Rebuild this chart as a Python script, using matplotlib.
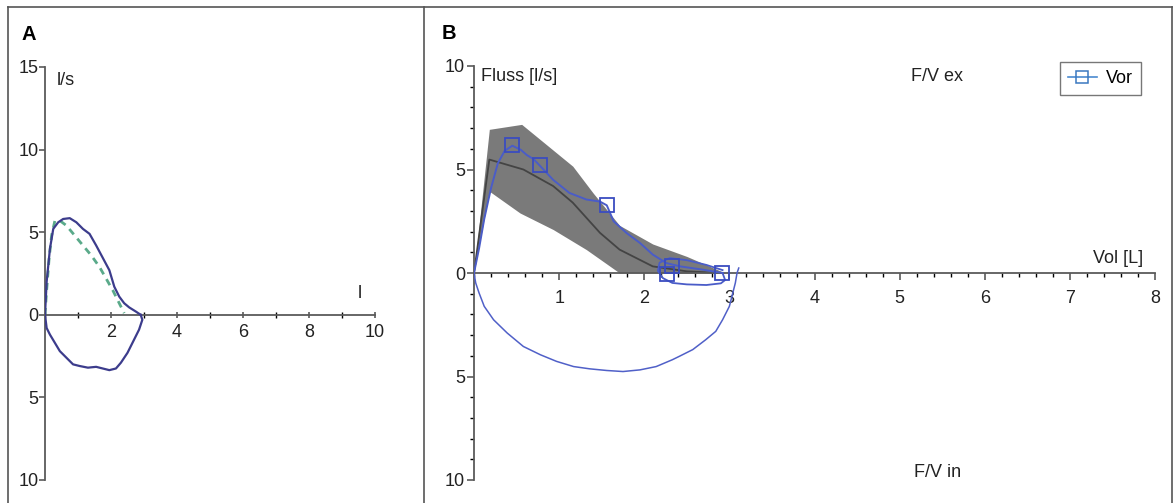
import matplotlib
matplotlib.use("Agg")
import matplotlib.pyplot as plt
from matplotlib.lines import Line2D
from matplotlib.ticker import FixedLocator, FuncFormatter, MultipleLocator
import numpy as np

plt.rcParams['font.family'] = ['Liberation Sans', 'DejaVu Sans']

# ---------------- Panel A data ----------------
a_exp_x = [0, 0.05, 0.15, 0.25, 0.4, 0.55, 0.75, 0.95, 1.15, 1.35, 1.55, 1.75, 1.95, 2.1, 2.25, 2.4, 2.55, 2.75, 2.9]
a_exp_y = [0, 2.0, 4.0, 5.2, 5.6, 5.8, 5.85, 5.6, 5.2, 4.9, 4.2, 3.45, 2.7, 1.7, 1.1, 0.7, 0.45, 0.2, 0.0]
a_insp_x = [2.9, 2.95, 2.85, 2.7, 2.5, 2.3, 2.15, 1.95, 1.75, 1.55, 1.3, 1.05, 0.85, 0.65, 0.45, 0.3, 0.15, 0.05, 0]
a_insp_y = [0, -0.3, -0.9, -1.5, -2.3, -2.9, -3.25, -3.35, -3.25, -3.15, -3.2, -3.1, -3.0, -2.6, -2.2, -1.7, -1.2, -0.8, 0]
a_pred_x = [0, 0.05, 0.12, 0.2, 0.3, 0.45, 0.65, 0.9, 1.15, 1.4, 1.65, 1.85, 2.05, 2.25, 2.4]
a_pred_y = [0, 1.5, 3.3, 4.8, 5.7, 5.7, 5.4, 4.8, 4.2, 3.6, 2.9, 2.2, 1.5, 0.7, 0.1]
a_yticks = [-10, -5, 0, 5, 10, 15]
a_xticks = [2, 4, 6, 8, 10]

# ---------------- Panel B data ----------------
b_upper_x = [0, 0.18, 0.56, 1.16, 1.40, 1.71, 2.1, 2.5, 2.95]
b_upper_y = [0, 6.94, 7.18, 5.16, 3.86, 2.3, 1.4, 0.8, 0]
b_lower_x = [0, 0.18, 0.54, 0.93, 1.32, 1.71, 2.95]
b_lower_y = [0, 3.95, 2.9, 2.1, 1.13, 0, 0]
b_mean_x = [0, 0.18, 0.58, 0.93, 1.16, 1.48, 1.71, 2.1, 2.5, 2.9]
b_mean_y = [0, 5.48, 5.0, 4.2, 3.4, 1.94, 1.13, 0.32, 0.08, 0]
b_exp_x = [0, 0.06, 0.12, 0.2, 0.28, 0.36, 0.45, 0.55, 0.62, 0.7, 0.77, 0.93, 1.12, 1.32, 1.48, 1.56,
           1.64, 1.79, 1.95, 2.1, 2.26, 2.42, 2.69, 2.92]
b_exp_y = [0, 1.2, 2.6, 4.1, 5.3, 5.9, 6.15, 5.95, 5.7, 5.5, 5.2, 4.5, 3.87, 3.55, 3.45, 3.27,
           2.5, 1.94, 1.45, 0.89, 0.48, 0.32, 0.16, 0]
b_loop_x = [2.92, 2.95, 2.9, 2.73, 2.5, 2.33, 2.22, 2.16, 2.18, 2.3, 2.5, 2.73, 2.92]
b_loop_y = [0, -0.34, -0.5, -0.58, -0.55, -0.48, -0.25, 0.1, 0.5, 0.72, 0.62, 0.39, 0.14]
b_insp_x = [3.11, 3.09, 3.07, 3.03, 3.0, 2.92, 2.84, 2.72, 2.57, 2.41, 2.33, 2.14, 1.95, 1.75, 1.56,
            1.36, 1.17, 0.97, 0.78, 0.58, 0.39, 0.23, 0.12, 0.06, 0.02, 0]
b_insp_y = [0.24, 0, -0.48, -1.13, -1.61, -2.26, -2.82, -3.23, -3.7, -4.03, -4.19, -4.52, -4.68, -4.76, -4.71,
            -4.63, -4.52, -4.27, -3.95, -3.55, -2.9, -2.26, -1.61, -0.97, -0.48, 0]
b_mark_x = [0.45, 0.77, 1.56, 2.27, 2.33, 2.91]
b_mark_y = [6.2, 5.2, 3.27, -0.05, 0.35, 0.0]
b_yticks = [-10, -5, 0, 5, 10]
b_xticks = [1, 2, 3, 4, 5, 6, 7, 8]

W, H = 1176, 503
fig = plt.figure(figsize=(W / 100, H / 100), dpi=100)

axis_col = '#5a5a5a'
txt_col = '#222222'
FS = 13
abs_fmt = FuncFormatter(lambda v, p: f"{abs(v):g}")


def px_axes(x0, x1, ytop, ybot):
    return fig.add_axes([x0 / W, (H - ybot) / H, (x1 - x0) / W, (ybot - ytop) / H])


def style_axes(ax, xlim, ylim):
    ax.set_xlim(*xlim)
    ax.set_ylim(*ylim)
    for s in ['top', 'right']:
        ax.spines[s].set_visible(False)
    ax.spines['left'].set_position(('data', 0))
    ax.spines['bottom'].set_position(('data', 0))
    ax.spines['left'].set_bounds(*ylim)
    ax.spines['bottom'].set_bounds(*xlim)
    for s in ['left', 'bottom']:
        ax.spines[s].set_color(axis_col)
        ax.spines[s].set_linewidth(1.3)
    ax.patch.set_alpha(0)
    ax.tick_params(colors=axis_col, labelcolor=txt_col, labelsize=FS)


# ---------------- Panel A ----------------
axA = px_axes(45, 375, 67, 480)
style_axes(axA, (0, 10), (-10, 15))
axA.plot(a_pred_x, a_pred_y, color='#5aaa8a', lw=2.0, ls=(0, (2.5, 2)), zorder=2)
axA.plot(a_exp_x, a_exp_y, color='#3c3c8c', lw=1.6, zorder=3)
axA.plot(a_insp_x, a_insp_y, color='#3c3c8c', lw=1.6, zorder=3)
axA.yaxis.set_major_locator(FixedLocator(a_yticks))
axA.yaxis.set_major_formatter(abs_fmt)
axA.xaxis.set_major_locator(FixedLocator(a_xticks))
axA.xaxis.set_minor_locator(MultipleLocator(1))
axA.tick_params(axis='y', direction='out', length=4, width=1.2, pad=0.5)
axA.tick_params(axis='x', which='major', direction='inout', length=5, width=1.2, pad=4)
axA.tick_params(axis='x', which='minor', direction='inout', length=4, width=1.0)
axA.text(0.36, 14.2, 'l/s', fontsize=FS, va='center', ha='left', color=txt_col)
axA.text(9.55, 1.3, 'l', fontsize=FS, va='center', ha='center', color=txt_col)

# ---------------- Panel B ----------------
axB = px_axes(474, 1155, 66, 480)
style_axes(axB, (0, 8), (-10, 10))
grid = np.union1d(b_upper_x, b_lower_x)
axB.fill_between(grid, np.interp(grid, b_lower_x, b_lower_y), np.interp(grid, b_upper_x, b_upper_y),
                 color='#7a7a7a', lw=0, zorder=1)
axB.plot(b_mean_x, b_mean_y, color='#444444', lw=1.3, zorder=2)
axB.plot(b_exp_x, b_exp_y, color='#4a5cc8', lw=1.4, zorder=3)
axB.plot(b_loop_x, b_loop_y, color='#4a5cc8', lw=1.3, zorder=3)
axB.plot(b_insp_x, b_insp_y, color='#5060c8', lw=1.1, zorder=3)
axB.plot(b_mark_x, b_mark_y, ls='none', marker='s', ms=9.5, mfc='none', mec='#3a4cc0', mew=1.3, zorder=4)
axB.yaxis.set_major_locator(FixedLocator(b_yticks))
axB.yaxis.set_minor_locator(MultipleLocator(1))
axB.yaxis.set_major_formatter(abs_fmt)
axB.xaxis.set_major_locator(FixedLocator(b_xticks))
axB.xaxis.set_minor_locator(MultipleLocator(0.2))
axB.tick_params(axis='y', which='major', direction='out', length=5, width=1.2, pad=1.5)
axB.tick_params(axis='y', which='minor', direction='out', length=3, width=1.0)
axB.tick_params(axis='x', which='major', direction='out', length=5, width=1.2, pad=7)
axB.tick_params(axis='x', which='minor', direction='out', length=3, width=1.0)
axB.text(0.08, 9.5, 'Fluss [l/s]', fontsize=FS, va='center', ha='left', color=txt_col)
axB.text(5.44, 9.5, 'F/V ex', fontsize=FS, va='center', ha='center', color=txt_col)
axB.text(5.44, -9.65, 'F/V in', fontsize=FS, va='center', ha='center', color=txt_col)
axB.text(7.86, 0.72, 'Vol [L]', fontsize=FS, va='center', ha='right', color=txt_col)
leg_handle = Line2D([], [], color='#4a8ad0', lw=1.2, marker='s', ms=9, mfc='none', mec='#3a78c0', mew=1.1)
leg = axB.legend([leg_handle], ['Vor'], loc='upper right', bbox_to_anchor=(0.979, 1.01),
                 borderaxespad=0, fancybox=False, edgecolor='#555555', fontsize=FS,
                 handlelength=1.6, handletextpad=0.5, borderpad=0.45)
leg.get_frame().set_linewidth(1.0)

# ---------------- panel labels and borders ----------------
fig.text(22 / W, 1 - 34 / H, 'A', fontsize=14.5, fontweight='bold', va='center', ha='left')
fig.text(442 / W, 1 - 33 / H, 'B', fontsize=14.5, fontweight='bold', va='center', ha='left')


def fig_line(xs, ys):
    fig.add_artist(Line2D([x / W for x in xs], [1 - y / H for y in ys], color='#555555', lw=1.2))


fig_line([8, 1172], [7, 7])
fig_line([8, 8], [7, 503])
fig_line([424, 424], [7, 503])
fig_line([1172, 1172], [7, 503])

fig.savefig('out.png', dpi=100)
